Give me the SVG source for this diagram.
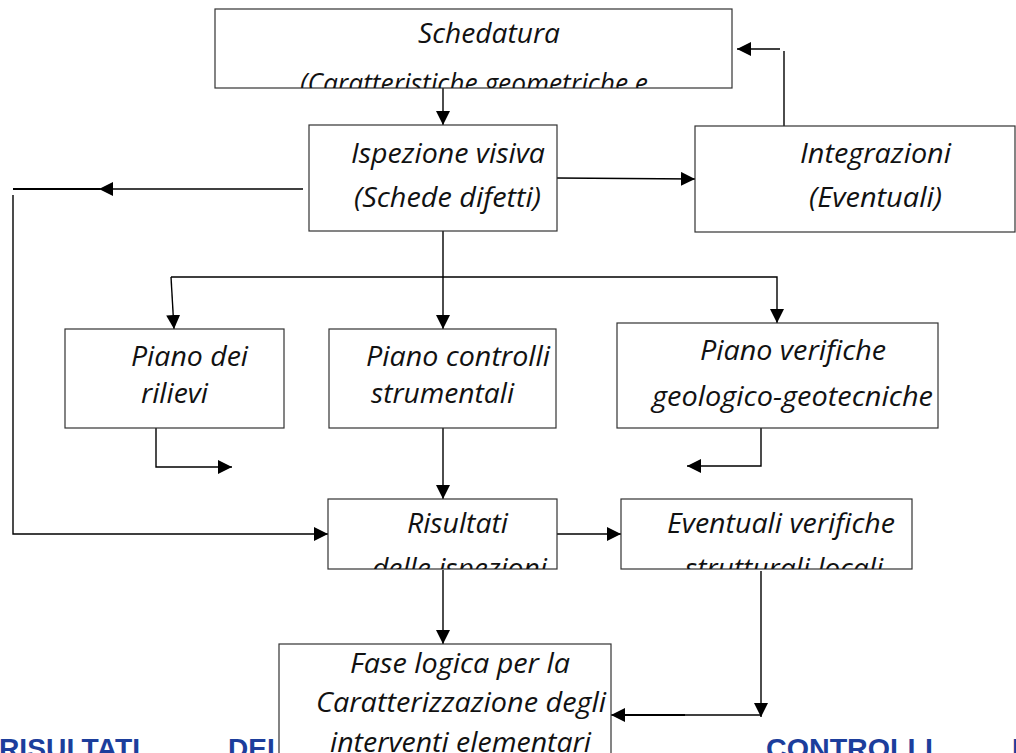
<svg xmlns="http://www.w3.org/2000/svg" width="1016" height="753" viewBox="0 0 1016 753">
<style>
.box{fill:#fff;stroke:#333;stroke-width:1.2}
.t{font-family:"Open Sans","DejaVu Sans",sans-serif;font-style:italic;font-size:27px;fill:#111}
.c{fill:none;stroke:#000;stroke-width:1.4}
.ck{fill:none;stroke:#000;stroke-width:2.2}
.blue{font-family:"Liberation Sans",Arial,sans-serif;font-weight:bold;font-size:28px;fill:#1c3e9c}
</style>
<defs>
<marker id="ah" markerUnits="userSpaceOnUse" markerWidth="16" markerHeight="16" refX="14" refY="7" orient="auto">
<path d="M0,0 L14,7 L0,14 Z" fill="#000"/>
</marker>
<clipPath id="clipSched"><rect x="215" y="9" width="517" height="79"/></clipPath>
<clipPath id="clipRis"><rect x="328" y="499" width="229" height="70"/></clipPath>
<clipPath id="clipEv"><rect x="621" y="499" width="291" height="70"/></clipPath>
<clipPath id="clipFase"><rect x="279" y="644" width="332" height="108"/></clipPath>
</defs>
<rect width="1016" height="753" fill="#fff"/>

<g id="footer-text">
<text class="blue" x="-1" y="758" textLength="141" lengthAdjust="spacingAndGlyphs">RISULTATI</text>
<text class="blue" x="228" y="758">DEI</text>
<text class="blue" x="766" y="758" textLength="167" lengthAdjust="spacingAndGlyphs">CONTROLLI</text>
<text class="blue" x="1012" y="758">I</text>
</g>

<g id="connectors">
<path class="c" d="M443,88 V125" marker-end="url(#ah)"/>
<path class="c" d="M303,189 H99" marker-end="url(#ah)"/>
<path class="ck" d="M13,189 H100"/>
<path class="c" d="M13,195 V534 H328" marker-end="url(#ah)"/>
<path class="c" d="M557,178 L695,179" marker-end="url(#ah)"/>
<path class="c" d="M784,126 V51"/>
<path class="c" d="M780,49 H737" marker-end="url(#ah)"/>
<path class="c" d="M443,231 V277"/>
<path class="c" d="M171,277 H777 V323" marker-end="url(#ah)"/>
<path class="c" d="M171,277 L174,329" marker-end="url(#ah)"/>
<path class="c" d="M443,277 V329" marker-end="url(#ah)"/>
<path class="c" d="M156,428 V467 H232" marker-end="url(#ah)"/>
<path class="c" d="M761,428 V466 H687" marker-end="url(#ah)"/>
<path class="c" d="M443,428 V499" marker-end="url(#ah)"/>
<path class="c" d="M557,534 H621" marker-end="url(#ah)"/>
<path class="c" d="M443,570 V644" marker-end="url(#ah)"/>
<path class="c" d="M761,571 V717" marker-end="url(#ah)"/>
<path class="c" d="M761,715 H611" marker-end="url(#ah)"/>
<path class="ck" d="M620,715 H685"/>
</g>

<g id="schedatura">
<rect class="box" x="215" y="9" width="517" height="79"/>
<g clip-path="url(#clipSched)">
<text class="t" x="418" y="43" textLength="142" lengthAdjust="spacingAndGlyphs">Schedatura</text>
<text class="t" x="300" y="93" textLength="348" lengthAdjust="spacingAndGlyphs">(Caratteristiche geometriche e</text>
</g>
</g>

<g id="ispezione">
<rect class="box" x="309" y="125" width="248" height="106"/>
<text class="t" x="351" y="163" textLength="194" lengthAdjust="spacingAndGlyphs">Ispezione visiva</text>
<text class="t" x="354" y="207" textLength="187" lengthAdjust="spacingAndGlyphs">(Schede difetti)</text>
</g>

<g id="integrazioni">
<rect class="box" x="695" y="126" width="320" height="106"/>
<text class="t" x="800" y="163" textLength="151" lengthAdjust="spacingAndGlyphs">Integrazioni</text>
<text class="t" x="809" y="207" textLength="133" lengthAdjust="spacingAndGlyphs">(Eventuali)</text>
</g>

<g id="piano-rilievi">
<rect class="box" x="65" y="329" width="219" height="99"/>
<text class="t" x="131" y="366" textLength="117" lengthAdjust="spacingAndGlyphs">Piano dei</text>
<text class="t" x="141" y="403" textLength="67" lengthAdjust="spacingAndGlyphs">rilievi</text>
</g>

<g id="piano-controlli">
<rect class="box" x="329" y="329" width="227" height="99"/>
<text class="t" x="366" y="366" textLength="184" lengthAdjust="spacingAndGlyphs">Piano controlli</text>
<text class="t" x="371" y="403" textLength="143" lengthAdjust="spacingAndGlyphs">strumentali</text>
</g>

<g id="piano-verifiche">
<rect class="box" x="617" y="323" width="321" height="105"/>
<text class="t" x="700" y="360" textLength="186" lengthAdjust="spacingAndGlyphs">Piano verifiche</text>
<text class="t" x="652" y="406" textLength="281" lengthAdjust="spacingAndGlyphs">geologico-geotecniche</text>
</g>

<g id="risultati">
<rect class="box" x="328" y="499" width="229" height="70"/>
<g clip-path="url(#clipRis)">
<text class="t" x="407" y="533" textLength="101" lengthAdjust="spacingAndGlyphs">Risultati</text>
<text class="t" x="372" y="578" textLength="175" lengthAdjust="spacingAndGlyphs">delle ispezioni</text>
</g>
</g>

<g id="eventuali">
<rect class="box" x="621" y="499" width="291" height="70"/>
<g clip-path="url(#clipEv)">
<text class="t" x="667" y="533" textLength="228" lengthAdjust="spacingAndGlyphs">Eventuali verifiche</text>
<text class="t" x="685" y="578" textLength="198" lengthAdjust="spacingAndGlyphs">strutturali locali</text>
</g>
</g>

<g id="fase">
<rect class="box" x="279" y="644" width="332" height="112"/>
<g clip-path="url(#clipFase)">
<text class="t" x="350" y="673" textLength="220" lengthAdjust="spacingAndGlyphs">Fase logica per la</text>
<text class="t" x="316" y="712" textLength="290" lengthAdjust="spacingAndGlyphs">Caratterizzazione degli</text>
<text class="t" x="330" y="752" textLength="261" lengthAdjust="spacingAndGlyphs">interventi elementari</text>
</g>
</g>
</svg>
